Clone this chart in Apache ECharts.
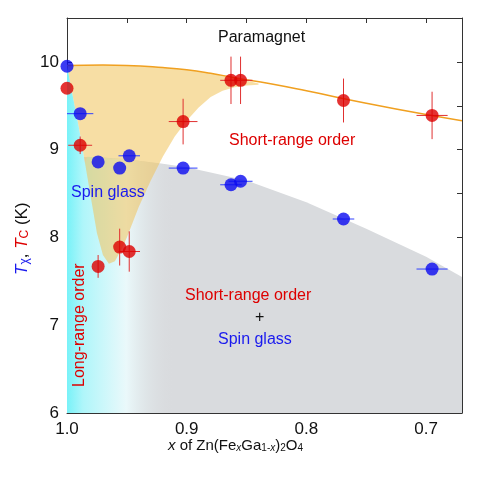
<!DOCTYPE html><html><head><meta charset="utf-8"><script src="https://cdn.jsdelivr.net/npm/echarts@6/dist/echarts.min.js"></script>
<style>html,body{margin:0;padding:0;background:#fff}#c{width:479px;height:479px}</style></head><body><div id="c"></div><script>
// data (x = Fe fraction, y in K)
var blueX=[1.0,0.989,0.974,0.956,0.948,0.903,0.863,0.855,0.769,0.695];
var blueY=[9.95,9.41,8.86,8.79,8.93,8.79,8.60,8.64,8.21,7.64];
var blueXErr=[0,0.011,0,0,0.009,0.012,0.009,0.01,0.009,0.013];
var redX=[1.0,0.989,0.974,0.956,0.948,0.903,0.863,0.855,0.769,0.695];
var redY=[9.70,9.05,7.67,7.89,7.84,9.32,9.79,9.79,9.56,9.39];
var redXErr=[0,0.01,0,0,0.009,0.012,0.009,0.01,0,0.013];
var redYErr=[0,0.1,0.13,0.21,0.23,0.26,0.27,0.27,0.25,0.27];
var lineX=[1.0,0.97,0.95,0.92,0.9,0.88,0.86,0.83,0.8,0.75,0.7,0.67];
var lineY=[9.96,9.965,9.96,9.935,9.91,9.87,9.82,9.75,9.67,9.53,9.40,9.33];
var dipX=[1.0,0.995,0.99,0.985,0.98,0.975,0.97,0.965,0.96,0.955,0.95,0.94,0.93,0.92,0.91,0.90,0.89,0.88,0.87,0.86,0.85,0.84];
var dipY=[9.96,9.6,9.25,8.85,8.45,8.05,7.8,7.7,7.73,7.85,8.0,8.35,8.65,8.92,9.15,9.33,9.48,9.6,9.67,9.71,9.73,9.74];
var greyX=[1.0,0.97,0.95,0.92,0.9,0.88,0.85,0.8,0.75,0.7,0.67];
var greyY=[8.92,8.91,8.89,8.84,8.80,8.74,8.65,8.40,8.10,7.78,7.55];
var xTickLabels={0:'1.0',0.1:'0.9',0.2:'0.8',0.3:'0.7'};

function t(x){return +(1-x).toFixed(4);}
function poly(pts,style){
  return {type:'custom',coordinateSystem:'cartesian2d',silent:true,z:1,
    data:[[0,0]],renderItem:function(p,api){
      return {type:'polygon',shape:{points:pts.map(function(q){return api.coord([t(q[0]),q[1]]);})},style:style};}};
}
var orangePts=[];
lineX.forEach(function(x,i){if(x>=0.84)orangePts.push([x,lineY[i]]);});
orangePts.push([0.84,9.755]);
for(var i=dipX.length-1;i>=0;i--)orangePts.push([dipX[i],dipY[i]]);
var greyPts=greyX.map(function(x,i){return [x,greyY[i]];});greyPts.push([0.67,6],[1.0,6]);
var cyanPts=[];
for(var i=0;i<dipX.length&&dipX[i]>=0.985;i++)cyanPts.push([dipX[i],dipY[i]]);
cyanPts.push([0.983,8.92],[0.95,8.89],[0.91,8.82],[0.91,6],[1.0,6]);

function err(xs,ys,xe,ye,color){
  return {type:'custom',z:3,silent:true,data:xs.map(function(x,i){return [t(x),ys[i],xe[i],ye?ye[i]:0];}),
    renderItem:function(p,api){
      var x=api.value(0),y=api.value(1),dx=api.value(2),dy=api.value(3),ch=[];
      if(dx>0){var a=api.coord([x-dx,y]),b=api.coord([x+dx,y]);ch.push({type:'line',shape:{x1:a[0],y1:a[1],x2:b[0],y2:b[1]},style:{stroke:color,lineWidth:1}});}
      if(dy>0){var a=api.coord([x,y-dy]),b=api.coord([x,y+dy]);ch.push({type:'line',shape:{x1:a[0],y1:a[1],x2:b[0],y2:b[1]},style:{stroke:color,lineWidth:1}});}
      return {type:'group',children:ch};}};
}
var axisCommon={axisLine:{show:true,onZero:false,lineStyle:{color:'#333',width:1}},axisTick:{show:true,inside:true,length:5,lineStyle:{color:'#333'}},splitLine:{show:false}};
var F='Liberation Sans';
function txt(l,tp,s,c,extra){return Object.assign({type:'text',z:100,zlevel:1,left:l,top:tp,style:{text:s,fontSize:16,fill:c,fontFamily:F}},extra||{});}
var option={
  animation:false,
  grid:{left:67,right:17,top:18,bottom:66},
  xAxis:[Object.assign({type:'value',min:0,max:0.33,interval:0.05,axisLabel:{fontSize:17,color:'#111',fontFamily:F,margin:8,formatter:function(v){var k=Math.round(v*100)/100;return xTickLabels[k]||'';}}},axisCommon),
    Object.assign({type:'value',position:'top',min:0,max:0.33,interval:0.05,axisLabel:{show:false}},axisCommon)],
  yAxis:[Object.assign({type:'value',min:6,max:10.5,interval:0.5,axisLabel:{fontSize:17,color:'#111',fontFamily:F,margin:8,formatter:function(v){return v%1===0?String(v):'';}}},axisCommon),
    Object.assign({type:'value',position:'right',min:6,max:10.5,interval:0.5,axisLabel:{show:false}},axisCommon)],
  series:[
    poly(greyPts,{fill:'#d9dbde'}),
    poly(cyanPts,{fill:{type:'linear',x:0,y:0,x2:1,y2:0,colorStops:[{offset:0,color:'rgba(120,242,248,1)'},{offset:0.15,color:'rgba(175,246,250,1)'},{offset:0.55,color:'rgba(235,250,252,0.95)'},{offset:1,color:'rgba(217,219,222,0)'}]}}),
    poly(orangePts,{fill:'rgba(240,195,90,0.55)'}),
    {type:'line',z:2,data:lineX.map(function(x,i){return [t(x),lineY[i]];}),smooth:true,symbol:'none',lineStyle:{color:'#f0a020',width:1.5}},
    err(redX,redY,redXErr,redYErr,'#e03030'),
    err(blueX,blueY,blueXErr,null,'#3040ff'),
    {type:'scatter',z:4,symbolSize:13,itemStyle:{color:'#0a0af0'},data:blueX.map(function(x,i){return [t(x),blueY[i]];})},
    {type:'scatter',z:4,symbolSize:13,itemStyle:{color:'#dd0000'},data:redX.map(function(x,i){return [t(x),redY[i]];})}
  ],
  graphic:[
    txt(218,30,'Paramagnet','#111'),
    txt(229,133,'Short-range order','#dd0000'),
    txt(71,185,'Spin glass','#1a1aee'),
    txt(185,288,'Short-range order','#dd0000'),
    txt(255,310,'+','#111'),
    txt(218,332,'Spin glass','#1a1aee'),
    {type:'text',z:100,zlevel:1,x:72,y:387,rotation:Math.PI/2,style:{text:'Long-range order',fontSize:16,fill:'#dd0000',fontFamily:F}},
    {type:'text',z:100,zlevel:1,x:13,y:275,rotation:Math.PI/2,style:{text:'{bi|T}{bs|χ}{k|, }{ri|T}{rs|C}{k| (K)}',fontFamily:F,rich:{
      bi:{fontSize:17,fontStyle:'italic',fill:'#1a1aee'},bs:{fontSize:12,fill:'#1a1aee',padding:[6,0,0,0]},
      k:{fontSize:17,fill:'#111'},ri:{fontSize:17,fontStyle:'italic',fill:'#dd0000'},rs:{fontSize:12,fill:'#dd0000',padding:[6,0,0,0]}}}},
    {type:'text',z:100,zlevel:1,left:168,top:438,style:{text:'{i|x}{n| of Zn(Fe}{si|x}{n|Ga}{s|1-}{si|x}{n|)}{s|2}{n|O}{s|4}',fontFamily:F,rich:{
      i:{fontSize:15,fontStyle:'italic',fill:'#111'},n:{fontSize:15,fill:'#111'},
      s:{fontSize:10,fill:'#111',padding:[6,0,0,0]},si:{fontSize:10,fontStyle:'italic',fill:'#111',padding:[6,0,0,0]}}}}
  ]
};
echarts.init(document.getElementById('c')).setOption(option);
</script></body></html>
